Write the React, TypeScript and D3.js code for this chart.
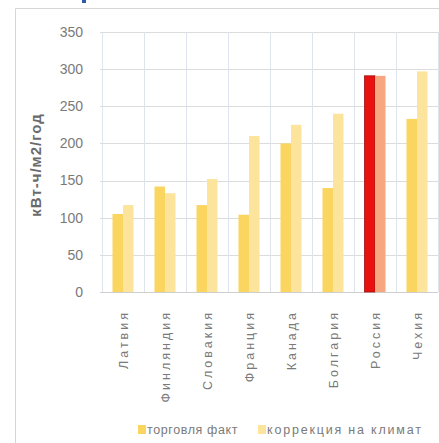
import React from "react";
import * as d3 from "d3";

const countries = ["Латвия", "Финляндия", "Словакия", "Франция", "Канада", "Болгария", "Россия", "Чехия"];
const tradeFact = [105, 142, 117, 104, 200, 140, 291, 233];
const climateCorrected = [117, 133, 152, 210, 225, 240, 291, 297];
const yTicks = [0, 50, 100, 150, 200, 250, 300, 350];
const seriesNames = ["торговля факт", "коррекция на климат"];
const highlight = "Россия";

const W = 439;
const H = 443;
const plot = { left: 102, right: 438, top: 32, bottom: 292 };

const colFact = "#fad55f";
const colCorr = "#fde49c";
const colFactHi = "#e8110f";
const colCorrHi = "#f6a77f";
const gridCol = "#dcdcdc";
const textCol = "#7a7a7a";
const font = "'Liberation Sans', Arial, sans-serif";

export default function App() {
  const x = d3
    .scaleBand<string>()
    .domain(countries)
    .range([plot.left, plot.right])
    .paddingInner(0.5)
    .paddingOuter(0.25);
  const step = x.step();
  const bw = x.bandwidth() / 2;
  const y = d3.scaleLinear().domain([0, 350]).range([plot.bottom, plot.top]);

  const boundaries = d3.range(countries.length + 1).map((i) => plot.left + i * step);

  return (
    <svg
      width={W}
      height={H}
      style={{ position: "absolute", left: 0, top: 0, background: "#fff" }}
    >
      {/* chart frame */}
      <line x1={15.5} y1={8.5} x2={W} y2={8.5} stroke="#d6d6d6" />
      <line x1={15.5} y1={8.5} x2={15.5} y2={H} stroke="#d6d6d6" />
      <rect x={82} y={0} width={4} height={3} fill="#2e5aa8" />

      {/* gridlines */}
      {yTicks.map((t) => (
        <line
          key={"h" + t}
          x1={plot.left - 2}
          x2={plot.right}
          y1={Math.round(y(t)) + 0.5}
          y2={Math.round(y(t)) + 0.5}
          stroke={t === 0 ? "#cfcfcf" : gridCol}
        />
      ))}
      {boundaries.map((bx, i) => (
        <line
          key={"v" + i}
          x1={Math.round(bx) + 0.5}
          x2={Math.round(bx) + 0.5}
          y1={plot.top}
          y2={plot.bottom}
          stroke="#dfe3ec"
        />
      ))}

      {/* bars */}
      {countries.map((c, i) => {
        const x0 = x(c)!;
        const hi = c === highlight;
        return (
          <g key={c}>
            <rect
              x={x0}
              y={y(tradeFact[i])}
              width={bw}
              height={y(0) - y(tradeFact[i])}
              fill={hi ? colFactHi : colFact}
              stroke={hi ? "#9e1010" : "none"}
              strokeWidth={hi ? 0.8 : 0}
            />
            <rect
              x={x0 + bw}
              y={y(climateCorrected[i])}
              width={bw}
              height={y(0) - y(climateCorrected[i])}
              fill={hi ? colCorrHi : colCorr}
            />
          </g>
        );
      })}

      {/* y tick labels */}
      {yTicks.map((t) => (
        <text
          key={"t" + t}
          x={83}
          y={y(t)}
          dy="0.35em"
          textAnchor="end"
          fontFamily={font}
          fontSize={14}
          fill={textCol}
        >
          {t}
        </text>
      ))}

      {/* y axis title */}
      <text
        transform={`translate(41,165) rotate(-90)`}
        textAnchor="middle"
        fontFamily={font}
        fontSize={15}
        fontWeight="bold"
        letterSpacing={1}
        fill="#6a6a6a"
      >
        кВт-ч/м2/год
      </text>

      {/* category labels */}
      {countries.map((c) => {
        const cx = x(c)! + x.bandwidth() / 2;
        return (
          <text
            key={"c" + c}
            transform={`translate(${cx + 5},310) rotate(-90)`}
            textAnchor="end"
            fontFamily={font}
            fontSize={12.5}
            letterSpacing={3}
            fill={textCol}
          >
            {c}
          </text>
        );
      })}

      {/* legend */}
      {seriesNames.map((n, i) => {
        const lx = i === 0 ? 138 : 258;
        return (
          <g key={n}>
            <rect x={lx} y={425} width={8} height={9} fill={i === 0 ? colFact : colCorr} />
            <text
              x={lx + 9}
              y={430}
              dy="0.35em"
              fontFamily={font}
              fontSize={12.5}
              letterSpacing={i === 0 ? 0.6 : 1.8}
              fill={textCol}
            >
              {n}
            </text>
          </g>
        );
      })}
    </svg>
  );
}
